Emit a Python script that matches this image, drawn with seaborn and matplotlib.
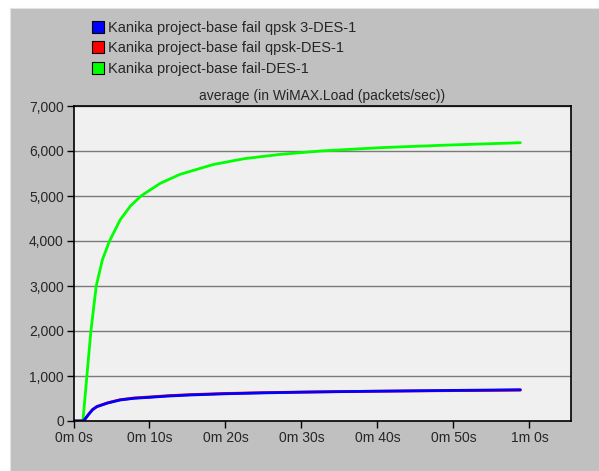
import numpy as np
import pandas as pd
import matplotlib.pyplot as plt
import seaborn as sns
from matplotlib.lines import Line2D
from matplotlib.ticker import FuncFormatter

sns.set_style("white")
plt.rcParams['font.family'] = ['Liberation Sans', 'DejaVu Sans']
plt.rcParams['font.size'] = 10

# time in seconds
t_green = [0, 1.24, 1.76, 2.29, 2.99, 3.8, 4.74, 6.14, 7.5, 8.87, 11.4, 14.0,
           18.4, 22.5, 27.2, 32.5, 40.4, 49.1, 58.8]
green = [0, 0, 1000, 2000, 3000, 3580, 4000, 4470, 4780, 5000, 5280, 5480,
         5700, 5830, 5925, 6000, 6074, 6131, 6184]

t_low = [0, 1.3, 1.6, 2.0, 2.5, 3.07, 4.5, 6.14, 8, 10.1, 12.5, 15.35, 20,
         25, 30, 35, 40, 45, 50, 55, 58.8]
blue = [0, 0, 60, 150, 250, 318, 400, 467, 505, 527, 555, 578, 605,
        625, 640, 652, 662, 671, 680, 688, 695]
red = [0, 0, 62, 153, 254, 322, 405, 473, 512, 535, 563, 586, 612,
       630, 643, 654, 662, 669, 675, 680, 685]

names = ["Kanika project-base fail qpsk 3-DES-1",
         "Kanika project-base fail qpsk-DES-1",
         "Kanika project-base fail-DES-1"]
colors = ["#0000ff", "#ff0000", "#00ff00"]

x_ticks = [0, 10, 20, 30, 40, 50, 60]
x_labels = ["0m 0s", "0m 10s", "0m 20s", "0m 30s", "0m 40s", "0m 50s", "1m 0s"]

df_green = pd.DataFrame({"t": t_green, "v": green})
df_blue = pd.DataFrame({"t": t_low, "v": blue})
df_red = pd.DataFrame({"t": t_low, "v": red})

fig = plt.figure(figsize=(5.99, 4.71), dpi=100)
fig.patch.set_facecolor("white")

# gray panel behind everything
bg = fig.add_axes([10 / 599, 0, 1, 1 - 8 / 471], zorder=0)
bg.set_facecolor("#c0c0c0")
bg.set_xticks([])
bg.set_yticks([])
for s in bg.spines.values():
    s.set_color("#e4e4e4")

ax = fig.add_axes([73.5 / 599, 1 - 421 / 471, 497 / 599, 315 / 471], zorder=2)
ax.set_facecolor("#f0f0f0")

sns.lineplot(data=df_green, x="t", y="v", color=colors[2], lw=2, ax=ax)
sns.lineplot(data=df_red, x="t", y="v", color=colors[1], lw=2, ax=ax)
sns.lineplot(data=df_blue, x="t", y="v", color=colors[0], lw=2, ax=ax)

ax.set_xlim(0, 65.4)
ax.set_ylim(0, 7000)
ax.set_yticks(range(0, 7001, 1000))
ax.yaxis.set_major_formatter(FuncFormatter(lambda v, p: f"{int(v):,}"))
ax.set_xticks(x_ticks)
ax.set_xticklabels(x_labels)
ax.set_xlabel("")
ax.set_ylabel("")
ax.grid(axis="y", color="#7a7a7a", lw=1)
ax.tick_params(axis="both", direction="out", length=5, width=1, color="black",
               labelsize=10, pad=2, left=True, bottom=True)
for s in ax.spines.values():
    s.set_color("black")
    s.set_linewidth(1.2)

ax.set_title("average (in WiMAX.Load (packets/sec))", fontsize=10, pad=4)

handles = [Line2D([], [], marker="s", linestyle="", markersize=9,
                  markerfacecolor=c, markeredgecolor="black", markeredgewidth=0.8)
           for c in colors]
leg = fig.legend(handles, names, loc="upper left", bbox_to_anchor=(85 / 599, 1 - 15 / 471),
                 frameon=False, fontsize=10.5, handletextpad=0.2, labelspacing=0.45,
                 borderaxespad=0, handlelength=1)
leg.set_zorder(3)

fig.savefig("out.png", dpi=100)
